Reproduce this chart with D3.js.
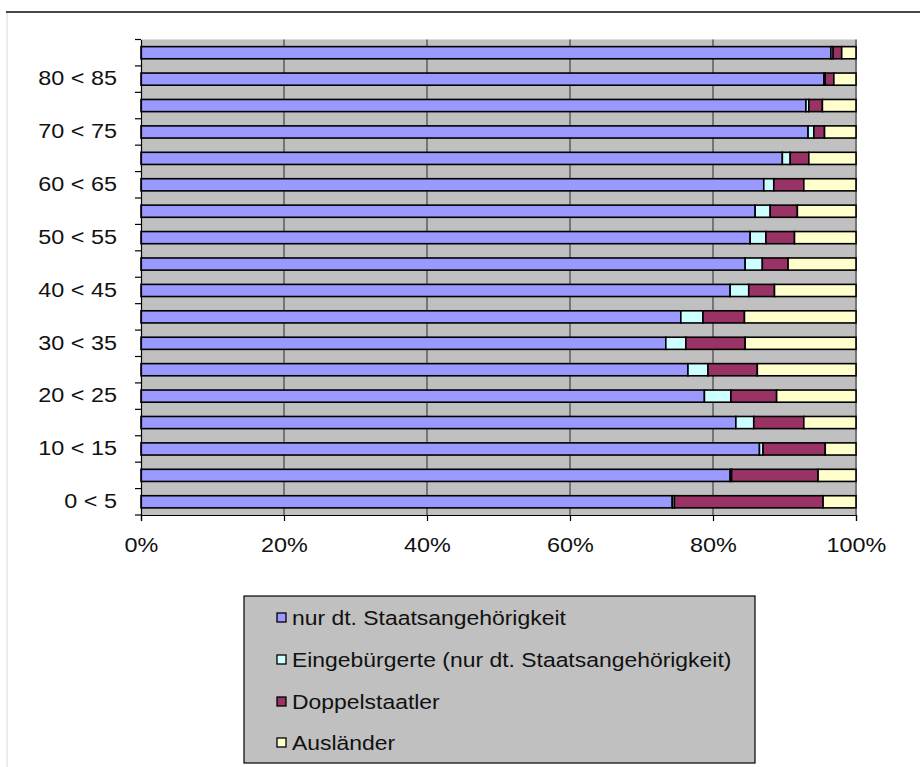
<!DOCTYPE html>
<html><head><meta charset="utf-8">
<script src="https://cdn.jsdelivr.net/npm/d3@7"></script>
<style>body{margin:0;background:#fff;}svg{display:block;font-family:"Liberation Sans",Arial,sans-serif;}</style>
</head><body>
<script>
const categories = ["0 < 5","5 < 10","10 < 15","15 < 20","20 < 25","25 < 30","30 < 35","35 < 40","40 < 45","45 < 50","50 < 55","55 < 60","60 < 65","65 < 70","70 < 75","75 < 80","80 < 85","85 < 90"];
const seriesNames = ["nur dt. Staatsangehörigkeit","Eingebürgerte (nur dt. Staatsangehörigkeit)","Doppelstaatler","Ausländer"];
const nurDt        = [74.3,82.4,86.5,83.2,78.8,76.5,73.4,75.5,82.4,84.5,85.2,85.9,87.1,89.7,93.3,93.0,95.5,96.5];
const eingebuergert= [0.3, 0.2, 0.5, 2.5, 3.7, 2.8, 2.8, 3.1, 2.6, 2.4, 2.2, 2.1, 1.4, 1.1, 0.8, 0.4, 0.2, 0.3];
const doppel       = [20.8,12.1,8.7, 7.0, 6.4, 6.9, 8.3, 5.8, 3.6, 3.6, 4.0, 3.8, 4.2, 2.6, 1.5, 1.9, 1.2, 1.2];
const auslaender   = [4.6, 5.3, 4.3, 7.3, 11.1,13.8,15.5,15.6,11.4,9.5, 8.6, 8.2, 7.3, 6.6, 4.4, 4.7, 3.1, 2.0];
const xTicks = [0,20,40,60,80,100];
const colors = ["#9999ff","#ccffff","#993366","#ffffcc"];

(function(){
const W=920,H=767,SX=1.2,FS=19.5;
const svg=d3.select("body").append("svg").attr("width",W).attr("height",H);
svg.append("rect").attr("x",7).attr("y",12).attr("width",W+10).attr("height",H).attr("fill","#fff").attr("stroke","#d8d8d8");
svg.append("line").attr("x1",6).attr("x2",W).attr("y1",12).attr("y2",12).attr("stroke","#111").attr("stroke-width",1.5);

const pL=141,pR=856,pT=39.5,pB=515;
const x=d3.scaleLinear().domain([0,100]).range([pL,pR]);
const y=d3.scaleBand().domain(categories.slice().reverse()).range([pT,pB]).paddingInner(0.54).paddingOuter(0.27);

svg.append("rect").attr("x",pL).attr("y",pT).attr("width",pR-pL+1).attr("height",pB-pT).attr("fill","#c0c0c0");
svg.append("g").selectAll("line").data(xTicks.filter(d=>d>0)).join("line")
  .attr("x1",d=>x(d)).attr("x2",d=>x(d)).attr("y1",pT).attr("y2",pB)
  .attr("stroke","#2a2a2a").attr("stroke-width",1);

const data=categories.map((c,i)=>({cat:c,v:[nurDt[i],eingebuergert[i],doppel[i],auslaender[i]]}));
const stack=d3.stack().keys([0,1,2,3]).value((d,k)=>d.v[k]);
const layers=stack(data);
layers.forEach((layer,k)=>{
  svg.append("g").selectAll("rect").data(layer).join("rect")
    .attr("x",d=>x(d[0])).attr("width",d=>Math.max(0,x(d[1])-x(d[0])))
    .attr("y",d=>y(d.data.cat)).attr("height",y.bandwidth())
    .attr("fill",colors[k]).attr("stroke","#000").attr("stroke-width",1.6);
});

const yAxis=d3.axisLeft(y).tickSize(0).tickFormat(d=>categories.indexOf(d)%2===0?d:"");
const gy=svg.append("g").attr("transform",`translate(${pL},0)`).call(yAxis);
gy.select(".domain").attr("stroke","#000").attr("stroke-width",1.2);
gy.selectAll("text").attr("font-size",FS).attr("fill","#111").attr("x",-24/SX)
  .attr("transform",`scale(${SX},1)`).attr("font-family","Liberation Sans, Arial, sans-serif");
const bounds=d3.range(categories.length+1).map(i=>pT+i*(pB-pT)/categories.length);
svg.append("g").selectAll("line").data(bounds).join("line")
  .attr("x1",pL-6).attr("x2",pL).attr("y1",d=>d).attr("y2",d=>d).attr("stroke","#000").attr("stroke-width",1.2);

const xAxis=d3.axisBottom(x).tickValues(xTicks).tickFormat(d=>d+"%").tickSize(6).tickPadding(17);
const gx=svg.append("g").attr("transform",`translate(0,${pB})`).call(xAxis);
gx.select(".domain").attr("stroke","#000").attr("stroke-width",1.2);
gx.selectAll("line").attr("stroke","#000").attr("stroke-width",1.2);
gx.selectAll("text").attr("font-size",FS).attr("fill","#111").attr("transform",`scale(${SX},1)`)
  .attr("font-family","Liberation Sans, Arial, sans-serif");

const lg=svg.append("g");
lg.append("rect").attr("x",244).attr("y",596).attr("width",511).attr("height",167).attr("fill","#c0c0c0").attr("stroke","#000").attr("stroke-width",1.2);
const rowY=[618,660,702,743];
seriesNames.forEach((n,i)=>{
  lg.append("rect").attr("x",277).attr("y",rowY[i]-5).attr("width",9).attr("height",9).attr("fill",colors[i]).attr("stroke","#000").attr("stroke-width",1.3);
  lg.append("text").attr("transform",`translate(292,${rowY[i]}) scale(${SX*0.98},1)`).attr("dy","0.35em")
    .attr("font-size",FS).attr("fill","#111").text(n);
});
})();
</script>
</body></html>
